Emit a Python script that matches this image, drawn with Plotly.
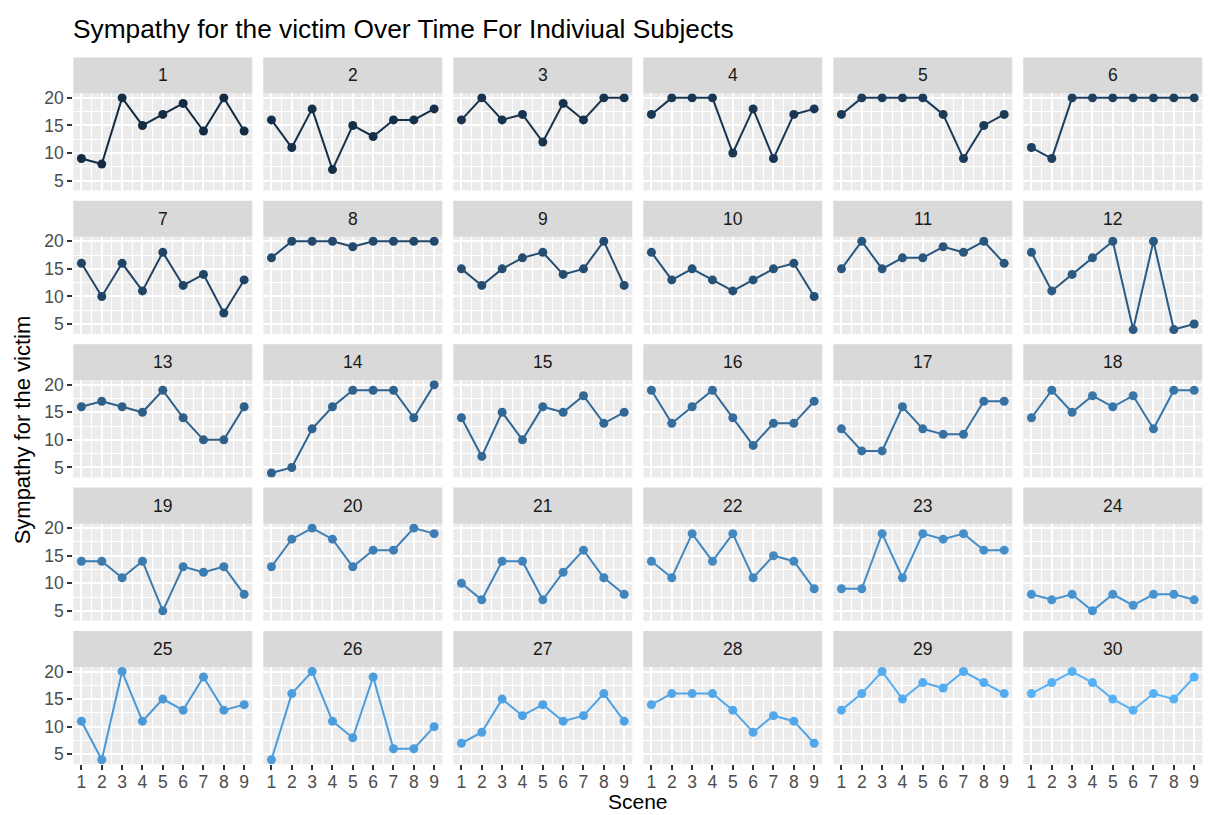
import plotly.graph_objects as go

# ---------------- data ----------------
scenes = [1, 2, 3, 4, 5, 6, 7, 8, 9]
subjects = list(range(1, 31))
y_ticks = [5, 10, 15, 20]

subject_01 = [9, 8, 20, 15, 17, 19, 14, 20, 14]
subject_02 = [16, 11, 18, 7, 15, 13, 16, 16, 18]
subject_03 = [16, 20, 16, 17, 12, 19, 16, 20, 20]
subject_04 = [17, 20, 20, 20, 10, 18, 9, 17, 18]
subject_05 = [17, 20, 20, 20, 20, 17, 9, 15, 17]
subject_06 = [11, 9, 20, 20, 20, 20, 20, 20, 20]
subject_07 = [16, 10, 16, 11, 18, 12, 14, 7, 13]
subject_08 = [17, 20, 20, 20, 19, 20, 20, 20, 20]
subject_09 = [15, 12, 15, 17, 18, 14, 15, 20, 12]
subject_10 = [18, 13, 15, 13, 11, 13, 15, 16, 10]
subject_11 = [15, 20, 15, 17, 17, 19, 18, 20, 16]
subject_12 = [18, 11, 14, 17, 20, 4, 20, 4, 5]
subject_13 = [16, 17, 16, 15, 19, 14, 10, 10, 16]
subject_14 = [4, 5, 12, 16, 19, 19, 19, 14, 20]
subject_15 = [14, 7, 15, 10, 16, 15, 18, 13, 15]
subject_16 = [19, 13, 16, 19, 14, 9, 13, 13, 17]
subject_17 = [12, 8, 8, 16, 12, 11, 11, 17, 17]
subject_18 = [14, 19, 15, 18, 16, 18, 12, 19, 19]
subject_19 = [14, 14, 11, 14, 5, 13, 12, 13, 8]
subject_20 = [13, 18, 20, 18, 13, 16, 16, 20, 19]
subject_21 = [10, 7, 14, 14, 7, 12, 16, 11, 8]
subject_22 = [14, 11, 19, 14, 19, 11, 15, 14, 9]
subject_23 = [9, 9, 19, 11, 19, 18, 19, 16, 16]
subject_24 = [8, 7, 8, 5, 8, 6, 8, 8, 7]
subject_25 = [11, 4, 20, 11, 15, 13, 19, 13, 14]
subject_26 = [4, 16, 20, 11, 8, 19, 6, 6, 10]
subject_27 = [7, 9, 15, 12, 14, 11, 12, 16, 11]
subject_28 = [14, 16, 16, 16, 13, 9, 12, 11, 7]
subject_29 = [13, 16, 20, 15, 18, 17, 20, 18, 16]
subject_30 = [16, 18, 20, 18, 15, 13, 16, 15, 19]

sympathy = [subject_01, subject_02, subject_03, subject_04, subject_05, subject_06,
            subject_07, subject_08, subject_09, subject_10, subject_11, subject_12,
            subject_13, subject_14, subject_15, subject_16, subject_17, subject_18,
            subject_19, subject_20, subject_21, subject_22, subject_23, subject_24,
            subject_25, subject_26, subject_27, subject_28, subject_29, subject_30]

title_text = "Sympathy for the victim Over Time For Indiviual Subjects"
x_title = "Scene"
y_title = "Sympathy for the victim"

# ---------------- colour scale (ggplot default gradient, Lab interpolation) ----------------
LOW, HIGH = "#132B43", "#56B1F7"


def hex_to_rgb(h):
    h = h.lstrip("#")
    return [int(h[i:i + 2], 16) / 255 for i in (0, 2, 4)]


def srgb_to_lin(c):
    return c / 12.92 if c <= 0.04045 else ((c + 0.055) / 1.055) ** 2.4


def lin_to_srgb(c):
    c = max(0.0, min(1.0, c))
    return 12.92 * c if c <= 0.0031308 else 1.055 * c ** (1 / 2.4) - 0.055


WHITE = (0.95047, 1.0, 1.08883)


def rgb_to_lab(rgb):
    r, g, b = [srgb_to_lin(c) for c in rgb]
    X = 0.4124564 * r + 0.3575761 * g + 0.1804375 * b
    Y = 0.2126729 * r + 0.7151522 * g + 0.0721750 * b
    Z = 0.0193339 * r + 0.1191920 * g + 0.9503041 * b

    def f(t):
        return t ** (1 / 3) if t > 216 / 24389 else (24389 / 27 * t + 16) / 116

    fx, fy, fz = f(X / WHITE[0]), f(Y / WHITE[1]), f(Z / WHITE[2])
    return [116 * fy - 16, 500 * (fx - fy), 200 * (fy - fz)]


def lab_to_hex(lab):
    L, a, b = lab
    fy = (L + 16) / 116
    fx = fy + a / 500
    fz = fy - b / 200

    def finv(t):
        return t ** 3 if t ** 3 > 216 / 24389 else (116 * t - 16) / (24389 / 27)

    X, Y, Z = finv(fx) * WHITE[0], finv(fy) * WHITE[1], finv(fz) * WHITE[2]
    r = 3.2404542 * X - 1.5371385 * Y - 0.4985314 * Z
    g = -0.9692660 * X + 1.8760108 * Y + 0.0415560 * Z
    bb = 0.0556434 * X - 0.2040259 * Y + 1.0572252 * Z
    return "#" + "".join("%02X" % round(lin_to_srgb(c) * 255) for c in (r, g, bb))


lab_lo, lab_hi = rgb_to_lab(hex_to_rgb(LOW)), rgb_to_lab(hex_to_rgb(HIGH))


def subject_colour(s):
    t = (s - min(subjects)) / (max(subjects) - min(subjects))
    return lab_to_hex([lo + (hi - lo) * t for lo, hi in zip(lab_lo, lab_hi)])


# ---------------- layout geometry (pixels) ----------------
W, H = 1210, 815
NCOL, NROW = 6, 5
PANEL_X0, PANEL_W, PANEL_PITCH_X = 73.3, 179.0, 190.0
STRIP_Y0, STRIP_H, PANEL_H, PANEL_PITCH_Y = 52.7, 36.3, 97.7, 144.3
FONT = "Liberation Sans, Arial"
TICK_SIZE = 17.5


def px(x):
    return x / W


def py(y):
    return 1 - y / H


fig = go.Figure()
layout_axes = {}
shapes = []
annotations = []

for i, s in enumerate(subjects):
    r, c = divmod(i, NCOL)
    k = i + 1
    xname = "x" if k == 1 else f"x{k}"
    yname = "y" if k == 1 else f"y{k}"
    col = subject_colour(s)
    fig.add_trace(go.Scatter(
        x=scenes, y=sympathy[i], mode="lines+markers",
        line=dict(color=col, width=2),
        marker=dict(color=col, size=9),
        xaxis=xname, yaxis=yname, showlegend=False,
        hoverinfo="x+y"))

    x0 = PANEL_X0 + c * PANEL_PITCH_X
    x1 = x0 + PANEL_W
    st = STRIP_Y0 + r * PANEL_PITCH_Y
    pt = st + STRIP_H
    pb = pt + PANEL_H

    bottom = (r == NROW - 1)
    left = (c == 0)

    layout_axes["xaxis" if k == 1 else f"xaxis{k}"] = dict(
        domain=[px(x0), px(x1)], anchor=yname, range=[0.6, 9.4],
        tickmode="array", tickvals=scenes, ticktext=[str(v) for v in scenes],
        showticklabels=bottom, ticks="outside" if bottom else "",
        ticklen=5, tickwidth=1.6, tickcolor="#333333", ticklabelstandoff=-3,
        tickfont=dict(family=FONT, size=TICK_SIZE, color="#4D4D4D"),
        showgrid=True, gridcolor="white", gridwidth=1.8,
        minor=dict(tickmode="array", tickvals=[v + 0.5 for v in [0] + scenes],
                   showgrid=True, gridcolor="white", gridwidth=0.8),
        zeroline=False, showline=False, fixedrange=True)
    layout_axes["yaxis" if k == 1 else f"yaxis{k}"] = dict(
        domain=[py(pb), py(pt)], anchor=xname, range=[3.2, 20.8],
        tickmode="array", tickvals=y_ticks, ticktext=[str(v) for v in y_ticks],
        showticklabels=left, ticks="outside" if left else "",
        ticklen=5, tickwidth=1.6, tickcolor="#333333",
        tickfont=dict(family=FONT, size=TICK_SIZE, color="#4D4D4D"),
        showgrid=True, gridcolor="white", gridwidth=1.8,
        minor=dict(tickmode="array", tickvals=[2.5, 7.5, 12.5, 17.5],
                   showgrid=True, gridcolor="white", gridwidth=0.8),
        zeroline=False, showline=False, fixedrange=True)

    # panel background
    shapes.append(dict(type="rect", xref="paper", yref="paper",
                       x0=px(x0), x1=px(x1), y0=py(pb), y1=py(pt),
                       fillcolor="#EBEBEB", line=dict(width=0), layer="below"))
    # strip
    shapes.append(dict(type="rect", xref="paper", yref="paper",
                       x0=px(x0), x1=px(x1), y0=py(pt), y1=py(st),
                       fillcolor="#D9D9D9", line=dict(width=0), layer="below"))
    annotations.append(dict(text=str(s), xref="paper", yref="paper",
                            x=px((x0 + x1) / 2), y=py((st + pt) / 2),
                            xanchor="center", yanchor="middle", showarrow=False,
                            font=dict(family=FONT, size=TICK_SIZE, color="#1A1A1A")))

grid_left = PANEL_X0
grid_right = PANEL_X0 + (NCOL - 1) * PANEL_PITCH_X + PANEL_W
annotations.append(dict(text=x_title, xref="paper", yref="paper",
                        x=px((grid_left + grid_right) / 2), y=0,
                        xanchor="center", yanchor="bottom", showarrow=False,
                        font=dict(family=FONT, size=21, color="black")))
annotations.append(dict(text=y_title, xref="paper", yref="paper",
                        x=px(22), y=py(428), textangle=-90,
                        xanchor="center", yanchor="middle", showarrow=False,
                        font=dict(family=FONT, size=22, color="black")))

fig.update_layout(
    width=W, height=H,
    margin=dict(l=0, r=0, t=0, b=0),
    paper_bgcolor="white", plot_bgcolor="rgba(0,0,0,0)",
    title=dict(text=title_text, x=px(73), xanchor="left", y=py(24), yanchor="middle",
               xref="paper", yref="paper",
               font=dict(family=FONT, size=26.3, color="black")),
    shapes=shapes, annotations=annotations,
    **layout_axes)

fig.write_html("out.html",
               config={"displayModeBar": False},
               post_script="document.body.style.margin='0';document.body.style.padding='0';"
                           "document.documentElement.style.overflow='hidden';")
